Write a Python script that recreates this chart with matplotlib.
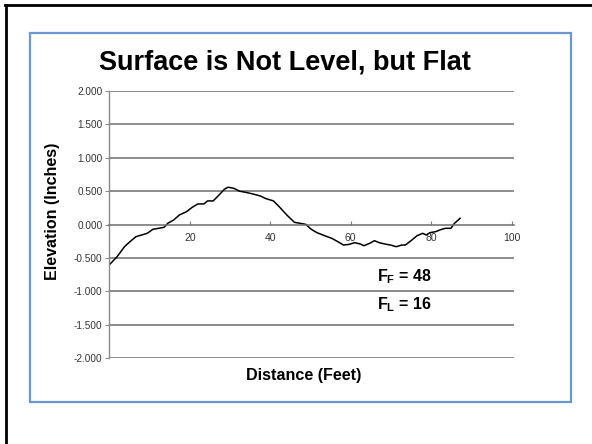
import matplotlib
matplotlib.use("Agg")
import matplotlib.pyplot as plt
from matplotlib.patches import Rectangle
from matplotlib.lines import Line2D

plt.rcParams['font.family'] = ['Liberation Sans', 'DejaVu Sans']
plt.rcParams['mathtext.fontset'] = 'custom'
plt.rcParams['mathtext.rm'] = 'Liberation Sans:bold'
plt.rcParams['mathtext.it'] = 'Liberation Sans:bold'
plt.rcParams['mathtext.bf'] = 'Liberation Sans:bold'

# --- data ---
distance = [0, 1.9, 3.75, 5.2, 6.6, 8, 9.4, 10.8, 12.2, 13.6, 14.5, 16, 17.4, 19.2,
            20.6, 22, 23.5, 24.4, 25.8, 27.2, 28.6, 29.5, 30.9, 32.4, 33.8, 35.6,
            37.5, 38.9, 40.8, 42.2, 44.1, 46, 47.4, 48.8, 50.2, 51.6, 53.5, 55.3,
            56.8, 58.2, 59.6, 61, 62.4, 63.3, 64.7, 65.9, 67.1, 68.5, 69.9, 71.3,
            72.7, 73.6, 75, 76.5, 77.9, 78.8, 79.7, 81.1, 82.6, 83.5, 84.9, 85.8, 87.2]
elevation = [-0.60, -0.48, -0.33, -0.25, -0.18, -0.155, -0.13, -0.07, -0.055, -0.04,
             0.02, 0.07, 0.145, 0.195, 0.26, 0.31, 0.31, 0.355, 0.355, 0.44, 0.53,
             0.56, 0.545, 0.50, 0.485, 0.46, 0.43, 0.39, 0.355, 0.27, 0.145, 0.035,
             0.02, 0.005, -0.07, -0.12, -0.165, -0.205, -0.255, -0.305, -0.295, -0.27,
             -0.29, -0.315, -0.28, -0.24, -0.27, -0.29, -0.305, -0.33, -0.305, -0.305,
             -0.24, -0.165, -0.13, -0.155, -0.12, -0.105, -0.07, -0.055, -0.055, 0.02, 0.095]
x_ticks = [20, 40, 60, 80, 100]
x_tick_labels = ['20', '40', '60', '80', '100']
y_ticks = [-2.0, -1.5, -1.0, -0.5, 0.0, 0.5, 1.0, 1.5, 2.0]
y_tick_labels = ['-2.000', '-1.500', '-1.000', '-0.500', '0.000', '0.500', '1.000', '1.500', '2.000']
title = 'Surface is Not Level, but Flat'
x_label = 'Distance (Feet)'
y_label = 'Elevation (Inches)'
ff_text = r'F$_\mathrm{F}$ = 48'
fl_text = r'F$_\mathrm{L}$ = 16'

W, H = 592, 444
fig = plt.figure(figsize=(W / 100, H / 100), dpi=100)
fig.patch.set_facecolor('white')

def fx(px):
    return px / W

def fy(py):
    return 1 - py / H

# black slide frame (left & top)
fig.add_artist(Line2D([fx(6), fx(6)], [fy(5), 0], color='black', lw=2.0, transform=fig.transFigure))
fig.add_artist(Line2D([fx(5), 1], [fy(5), fy(5)], color='black', lw=2.0, transform=fig.transFigure))
# blue box
fig.add_artist(Rectangle((fx(30), fy(402)), fx(571) - fx(30), fy(33) - fy(402),
                         transform=fig.transFigure, fill=False, edgecolor='#6b97d3', lw=1.6))

ax = fig.add_axes([fx(109.4), fy(358.3), fx(514) - fx(109.4), fy(91) - fy(358.3)])
ax.plot(distance, elevation, color='black', lw=1.1)
ax.set_xlim(0, 100.6)
ax.set_ylim(-2.0, 2.0)

for yv in y_ticks:
    if yv != 0.0:
        ax.axhline(yv, color='#6e6e6e', lw=1.1, zorder=0)

ax.spines['top'].set_visible(False)
ax.spines['right'].set_visible(False)
ax.spines['left'].set_color('#8a8a8a')
ax.spines['left'].set_linewidth(1.0)
ax.spines['bottom'].set_position(('data', 0))
ax.spines['bottom'].set_color('#6e6e6e')
ax.spines['bottom'].set_linewidth(1.1)

ax.set_xticks(x_ticks)
ax.set_xticklabels(x_tick_labels)
ax.set_yticks(y_ticks)
ax.set_yticklabels(y_tick_labels)
ax.tick_params(axis='x', direction='in', length=3, color='#7a7a7a', labelsize=7.5,
               labelcolor='#333333', pad=6)
ax.tick_params(axis='y', direction='out', length=3, color='#8a8a8a', labelsize=7.2,
               labelcolor='#333333', pad=2)

fig.text(fx(285), fy(63), title, ha='center', va='center', fontsize=19.5, fontweight='bold')
fig.text(fx(53), fy(211), y_label, ha='center', va='center', rotation=90, fontsize=11.5, fontweight='bold')
fig.text(fx(304), fy(375), x_label, ha='center', va='center', fontsize=11.6, fontweight='bold')
fig.text(fx(377), fy(277), ff_text, ha='left', va='center', fontsize=11.5, fontweight='bold')
fig.text(fx(377), fy(305), fl_text, ha='left', va='center', fontsize=11.5, fontweight='bold')

fig.savefig('out.png', dpi=100, facecolor='white')
